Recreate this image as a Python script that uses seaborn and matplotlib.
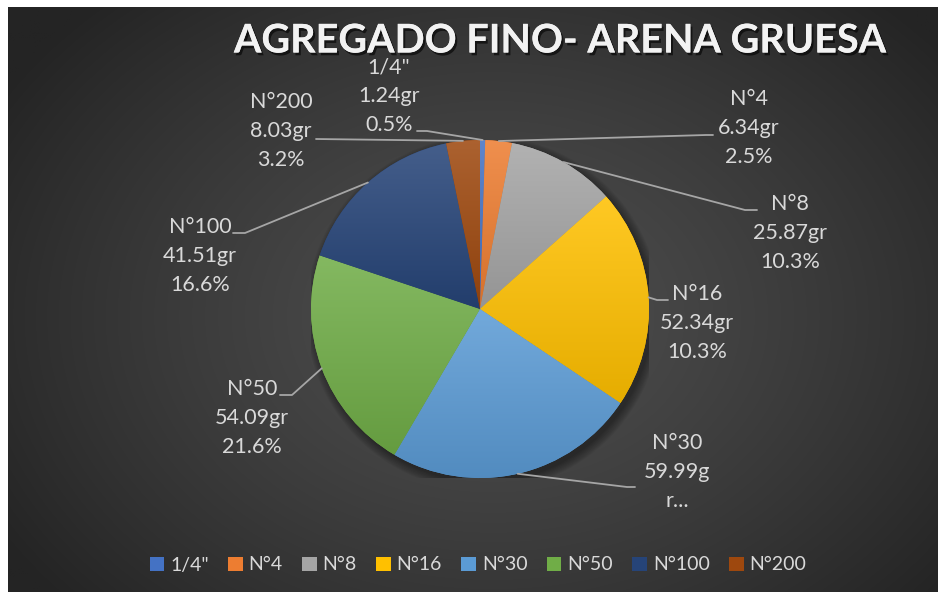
import numpy as np
import matplotlib
matplotlib.use('Agg')
import matplotlib.pyplot as plt
import seaborn as sns
import matplotlib.patheffects as pe
from matplotlib.patches import Patch, Circle
from matplotlib.colors import to_rgb

# ---------------- data ----------------
categories = ['1/4"', 'N°4', 'N°8', 'N°16', 'N°30', 'N°50', 'N°100', 'N°200']
weights = [1.24, 6.34, 25.87, 52.34, 59.99, 54.09, 41.51, 8.03]
gram_text = ['1.24gr', '6.34gr', '25.87gr', '52.34gr', '59.99g', '54.09gr', '41.51gr', '8.03gr']
pct_text = ['0.5%', '2.5%', '10.3%', '10.3%', 'r...', '21.6%', '16.6%', '3.2%']
title = 'AGREGADO FINO- ARENA GRUESA'
colors = ['#4472C4', '#ED7D31', '#A5A5A5', '#FFC000', '#5B9BD5', '#70AD47', '#264478', '#9E480E']

# ---------------- layout (pixels) ----------------
W, H = 938, 592
CX, CY, R = 480, 309, 169
label_pos = [(389, 96), (749, 128), (790, 233), (697, 323),
             (677, 472), (252, 418), (200, 256), (281, 131)]
leader_pts = [
    [(427, 131), (417, 131)],
    [(706, 135), (713, 135)],
    [(745, 210), (757, 210)],
    [(657, 300), (668, 300)],
    [(627, 487), (635, 487)],
    [(292, 395), (280, 395)],
    [(245, 233), (233, 233)],
    [(316, 139)],
]

sns.set_theme(style='white')
plt.rcParams['font.family'] = ['Lato', 'DejaVu Sans']

fig = plt.figure(figsize=(W / 100, H / 100), dpi=100)
fig.patch.set_facecolor('white')

# background radial gradient
top_frac = 1 - 7 / H
bg = fig.add_axes([8 / W, -0.03, 1.03 - 8 / W, top_frac + 0.03])
bw, bh = W - 8, H - 7
yy, xx = np.mgrid[0:bh, 0:bw]
d = np.sqrt(((xx - 470) / 560.0) ** 2 + ((yy - 300) / 420.0) ** 2)
v = np.clip(78 - 42 * d ** 1.3, 36, 80) / 255.0
bg.imshow(np.dstack([v, v, v]), aspect='auto', extent=(0, 1, 0, 1), origin='upper')
bg.set_xlim(0, 1)
bg.set_ylim(0, 1)
bg.set_axis_off()

# pie
ax = fig.add_axes([(CX - R) / W, (H - CY - R) / H, 2 * R / W, 2 * R / H])
ax.set_axis_off()
for k in range(8):
    ax.add_patch(Circle((0.02, -0.025), 1.0 + 0.007 * k, color='black', alpha=0.05, lw=0, zorder=0))
wedges, _ = ax.pie(weights, colors=colors, startangle=90, counterclock=False,
                   wedgeprops=dict(linewidth=0, edgecolor='none'))


def mix(c, o, t):
    c = np.array(to_rgb(c)); o = np.array(o)
    return c * (1 - t) + o * t


for w, c in zip(wedges, colors):
    w.set_zorder(2)
    ext = w.get_path().get_extents()
    top = mix(c, (1, 1, 1), 0.14)
    bot = mix(c, (0, 0, 0), 0.10)
    t = np.linspace(0, 1, 256)[:, None, None]
    img = top[None, None, :] * (1 - t) + bot[None, None, :] * t
    img = np.repeat(img, 2, axis=1)
    im = ax.imshow(img, extent=(ext.x0, ext.x1, ext.y0, ext.y1), origin='upper',
                   aspect='auto', zorder=3, interpolation='bilinear')
    im.set_clip_path(w)

ax.set_xlim(-1, 1)
ax.set_ylim(-1, 1)


def px2data(p):
    return ((p[0] - CX) / R, (CY - p[1]) / R)


lab_col = '#D9D9D9'
line_col = '#A6A6A6'
for i, w in enumerate(wedges):
    th = np.deg2rad((w.theta1 + w.theta2) / 2)
    pts = [(np.cos(th), np.sin(th))] + [px2data(p) for p in leader_pts[i]]
    xs, ys = zip(*pts)
    ax.plot(xs, ys, color=line_col, lw=1.3, clip_on=False, zorder=5)
    x, y = label_pos[i]
    for j, s in enumerate([categories[i], gram_text[i], pct_text[i]]):
        fig.text(x / W, 1 - (y + (j - 1) * 29) / H, s, ha='center', va='center',
                 fontsize=15.5, color=lab_col)

# title
fig.text(561 / W, 1 - 41 / H, title, ha='center', va='center', fontsize=28.5,
         fontweight='bold', color='#F2F2F2',
         path_effects=[pe.withSimplePatchShadow(offset=(1.5, -2), shadow_rgbFace='black', alpha=0.6),
                       pe.Normal()])

# legend
handles = [Patch(facecolor=c, edgecolor='none') for c in colors]
fig.legend(handles, categories, loc='center', bbox_to_anchor=(478 / W, 1 - 565 / H),
           ncol=8, frameon=False, handlelength=0.75, handleheight=0.75,
           handletextpad=0.3, columnspacing=1.0, fontsize=14, labelcolor=lab_col)

fig.savefig('out.png', dpi=100, facecolor=fig.get_facecolor())
